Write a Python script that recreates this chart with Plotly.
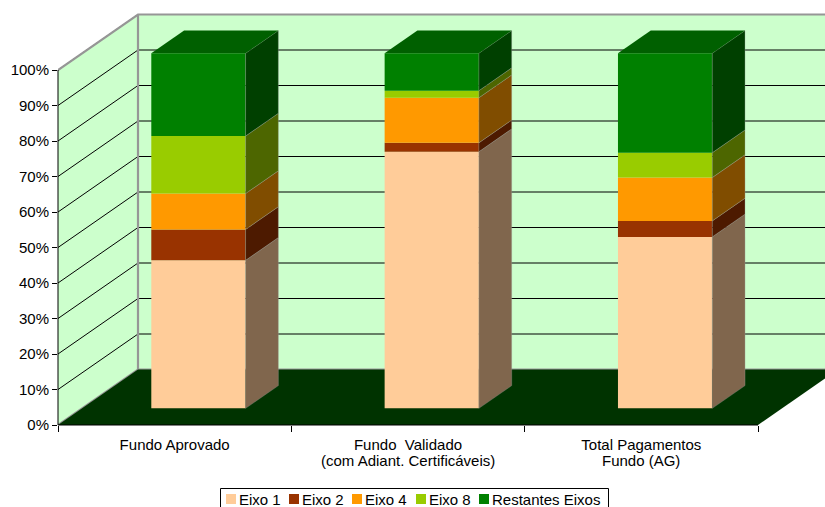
import plotly.graph_objects as go

category_first_lines = ["Fundo Aprovado", "Fundo\u00a0 Validado", "Total Pagamentos"]
category_second_lines = ["", "(com Adiant. Certificáveis)", "Fundo (AG)"]
series_names = ["Eixo 1", "Eixo 2", "Eixo 4", "Eixo 8", "Restantes Eixos"]
eixo_1 = [41.7, 72.3, 48.3]
eixo_2 = [8.7, 2.5, 4.5]
eixo_4 = [10.1, 12.7, 12.2]
eixo_8 = [16.2, 2.0, 7.0]
restantes = [23.3, 10.5, 28.0]
series_values = [eixo_1, eixo_2, eixo_4, eixo_8, restantes]
value_ticks = list(range(0, 101, 10))
value_labels = [f"{t}%" for t in value_ticks]
front_colors = ["#FFCC99", "#993300", "#FF9900", "#99CC00", "#008000"]
side_colors = ["#80664D", "#4D1A00", "#804D00", "#4D6600", "#004000"]
top_color = "#006000"
wall_color = "#CCFFCC"
floor_color = "#003300"
edge_color = "#969696"
FONT = "Liberation Sans, Arial, sans-serif"

n = len(category_first_lines)
WIDTH, HEIGHT = 825, 507
M_L, M_B = 58, 82
CAT_PX = 700 / n
PCT_PX = 3.55

# Oblique projection: depth 0..1 shifts a point right and up on the value axis
DEPTH_X = 80 / CAT_PX
DEPTH_Y = 55.5 / PCT_PX
BAR_FRONT, BAR_BACK = 0.30, 0.71
BAR_LEFT, BAR_RIGHT = 0.297, 0.701


def project(x, y, z=0.0):
    return x + z * DEPTH_X, y + z * DEPTH_Y


def polygon(points, color, name, line_color=None, width=0):
    px = [project(*p) for p in points]
    xs = [p[0] for p in px] + [px[0][0]]
    ys = [p[1] for p in px] + [px[0][1]]
    return go.Scatter(
        x=xs, y=ys, mode="lines", fill="toself", fillcolor=color, name=name,
        line=dict(color=line_color or color, width=width),
        showlegend=False, hoverinfo="skip",
    )


def segment(points, color, width):
    px = [project(*p) for p in points]
    return go.Scatter(
        x=[p[0] for p in px], y=[p[1] for p in px], mode="lines",
        line=dict(color=color, width=width),
        showlegend=False, hoverinfo="skip",
    )


fig = go.Figure()
x_far = n + 0.5

# Chart box: side wall, back wall, floor
fig.add_trace(polygon([(0, 0, 0), (0, 0, 1), (0, 100, 1), (0, 100, 0)], wall_color, "side wall"))
fig.add_trace(polygon([(0, 0, 1), (x_far, 0, 1), (x_far, 100, 1), (0, 100, 1)], wall_color, "back wall"))
for tick in value_ticks[1:]:
    fig.add_trace(segment([(0, tick, 0), (0, tick, 1), (x_far, tick, 1)], "#000000", 1))
fig.add_trace(segment([(0, 100, 0), (0, 100, 1), (x_far, 100, 1)], edge_color, 2.2))
fig.add_trace(segment([(0, 0, 1), (0, 100, 1)], edge_color, 2.2))
fig.add_trace(segment([(0, 0, 0), (0, 0, 1), (x_far, 0, 1)], edge_color, 2.2))
fig.add_trace(polygon([(0, 0, 0), (n, 0, 0), (n, 0, 1), (0, 0, 1)], floor_color, "floor"))

# Stacked columns: front and right faces per segment, one top face per column
for i in range(n):
    x0, x1 = i + BAR_LEFT, i + BAR_RIGHT
    base = 0.0
    for name, values, front, side in zip(series_names, series_values, front_colors, side_colors):
        top = base + values[i]
        fig.add_trace(polygon([(x0, base, BAR_FRONT), (x1, base, BAR_FRONT), (x1, top, BAR_FRONT), (x0, top, BAR_FRONT)], front, name))
        fig.add_trace(polygon([(x1, base, BAR_FRONT), (x1, base, BAR_BACK), (x1, top, BAR_BACK), (x1, top, BAR_FRONT)], side, name,
                              line_color="rgba(160,160,160,0.55)", width=0.6))
        base = top
    fig.add_trace(polygon([(x0, base, BAR_FRONT), (x1, base, BAR_FRONT), (x1, base, BAR_BACK), (x0, base, BAR_BACK)], top_color, series_names[-1]))

plot_w = WIDTH - M_L
plot_h = HEIGHT - M_B


def paper_x(px):
    return (px - M_L) / plot_w


def paper_y(px):
    return (HEIGHT - M_B - px) / plot_h


# Axis lines span only the front plane of the box
shapes = [
    dict(type="line", xref="paper", yref="paper", x0=0, x1=paper_x(758), y0=0, y1=0, line=dict(color="#000000", width=1)),
    dict(type="line", xref="paper", yref="paper", x0=0, x1=0, y0=0, y1=100 * PCT_PX / plot_h, line=dict(color="#000000", width=1)),
]

# Second lines of the category labels sit tighter than the axis line height allows
annotations = []
for i, line in enumerate(category_second_lines):
    if line:
        annotations.append(dict(xref="x", yref="paper", x=i + 0.5, y=paper_y(460.5), text=line,
                                showarrow=False, xanchor="center", yanchor="middle",
                                font=dict(family=FONT, size=15, color="#000000")))

# Legend box with square swatches and labels
shapes.append(dict(type="rect", xref="paper", yref="paper", x0=paper_x(220.5), x1=paper_x(608.5),
                   y0=paper_y(510), y1=paper_y(488.5), line=dict(color="#000000", width=1), fillcolor="#FFFFFF"))
legend_x = [226, 289, 352, 416, 479]
for lx, name, color in zip(legend_x, series_names, front_colors):
    shapes.append(dict(type="rect", xref="paper", yref="paper", x0=paper_x(lx), x1=paper_x(lx + 10),
                       y0=paper_y(504), y1=paper_y(494), line=dict(width=0), fillcolor=color))
    annotations.append(dict(xref="paper", yref="paper", x=paper_x(lx + 13), y=paper_y(499), text=name,
                            showarrow=False, xanchor="left", yanchor="middle",
                            borderpad=0, borderwidth=0,
                            font=dict(family=FONT, size=15, color="#000000")))

fig.update_layout(
    width=WIDTH, height=HEIGHT, autosize=False,
    margin=dict(l=M_L, r=0, t=0, b=M_B, pad=0),
    paper_bgcolor="#FFFFFF", plot_bgcolor="rgba(0,0,0,0)",
    font=dict(family=FONT, size=15, color="#000000"),
    showlegend=False, shapes=shapes, annotations=annotations,
    xaxis=dict(
        range=[0, plot_w / CAT_PX], tickmode="array", tickvals=[i + 0.5 for i in range(n)], ticktext=category_first_lines,
        ticks="outside", ticklen=6, tickcolor="rgba(0,0,0,0)", showgrid=False, zeroline=False,
        showline=False, tickangle=0,
        minor=dict(tickmode="array", tickvals=list(range(n + 1)), ticks="outside", ticklen=6,
                   tickcolor="#000000", tickwidth=1, showgrid=False),
    ),
    yaxis=dict(
        range=[0, plot_h / PCT_PX], tickmode="array", tickvals=value_ticks, ticktext=value_labels,
        ticks="outside", ticklen=5, tickcolor="#000000", showgrid=False, zeroline=False,
        showline=False,
    ),
)

fig.write_html("out.html")
